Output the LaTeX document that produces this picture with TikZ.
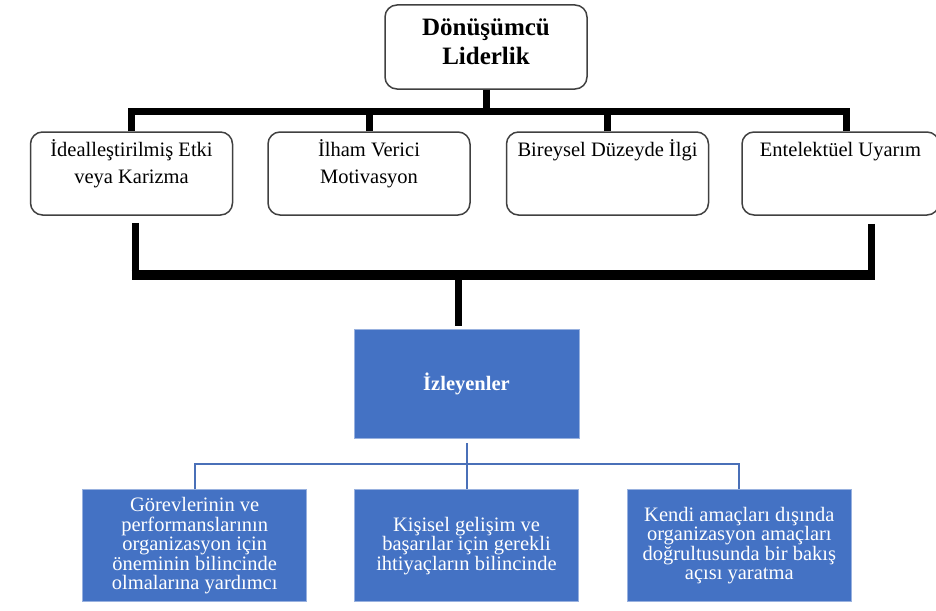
\documentclass[tikz,border=0pt]{standalone}
\usepackage{fontspec}
\setmainfont{Liberation Serif}
\usepackage{tikz}
\usetikzlibrary{positioning}
\definecolor{kutumavi}{HTML}{4472C4}
\definecolor{cizgimavi}{HTML}{4A70B8}

\begin{document}
\begin{tikzpicture}[
		node distance=34pt and 34pt,
		kutu/.style={draw=black!75, line width=1.5pt, rectangle, rounded corners=12pt, minimum width=202pt, minimum height=83pt},
		metin/.style={anchor=north, align=center, inner sep=8pt, font=\fontsize{20.5}{27}\selectfont},
		mavikutu/.style={fill=kutumavi, draw=kutumavi!55!white, line width=0.8pt, minimum width=224pt, minimum height=112pt, align=center, text=white, font=\fontsize{20.5}{19.5}\selectfont},
		kalin/.style={line width=7pt},
		kalinbar/.style={line width=10pt},
		ince/.style={draw=cizgimavi, line width=2pt}
		]
		\useasboundingbox (0,0) rectangle (936pt,-610pt);

		% Nodes
		\node[kutu, minimum height=84pt, align=center, text depth=11pt, font=\fontsize{25}{29}\selectfont\bfseries] (lider) at (486pt,-47pt) {Dönüşümcü\\ Liderlik};
		\node[kutu] (etki) at (131.5pt,-173.5pt) {};
		\node[kutu, right=34pt of etki] (ilham) {};
		\node[kutu, right=35pt of ilham] (bireysel) {};
		\node[kutu, right=32pt of bireysel, minimum width=197pt] (uyarim) {};
		\node[metin] (etkim) at (etki.north) {İdealleştirilmiş Etki\\ veya Karizma};
		\node[metin] (ilhamm) at (ilham.north) {İlham Verici\\ Motivasyon};
		\node[metin] (bireyselm) at (bireysel.north) {Bireysel Düzeyde İlgi};
		\node[metin, text height=17pt] (uyarimm) at (uyarim.north) {Entelektüel Uyarım};

		\node[mavikutu, minimum width=225pt, minimum height=109pt, font=\fontsize{20.5}{24}\selectfont\bfseries] (izleyen) at (466.5pt,-383.5pt) {İzleyenler};
		\node[mavikutu, below=51pt of izleyen] (gelisim) {Kişisel gelişim ve\\ başarılar için gerekli\\ ihtiyaçların bilincinde};
		\node[mavikutu, left=47pt of gelisim] (gorev) {Görevlerinin ve\\ performanslarının\\ organizasyon için\\ öneminin bilincinde\\ olmalarına yardımcı};
		\node[mavikutu, right=48pt of gelisim] (bakis) {Kendi amaçları dışında\\ organizasyon amaçları\\ doğrultusunda bir bakış\\ açısı yaratma};

		% Connectors
		\coordinate (ustbar) at ([yshift=-22pt]lider.south);
		\draw[kalin] (lider.south) -- (ustbar);
		\draw[kalin] (etki.north) |- (ustbar) -| ([xshift=6pt]uyarim.north);
		\draw[kalin] (ilham.north) -- (ilham.north |- ustbar);
		\draw[kalin] (bireysel.north) -- (bireysel.north |- ustbar);

		\coordinate (altbar) at ([xshift=-8.5pt, yshift=54pt]izleyen.north);
		\draw[kalin] ([xshift=3.5pt, yshift=-7pt]etki.south) -- ([xshift=3.5pt]etki.south |- altbar);
		\draw[kalin] ([xshift=30.5pt, yshift=-8pt]uyarim.south) -- ([xshift=30.5pt]uyarim.south |- altbar);
		\draw[kalinbar] (etki.south |- altbar) -- ([xshift=34pt]uyarim.south |- altbar);
		\draw[kalin] (altbar) -- ([xshift=-8.5pt, yshift=3pt]izleyen.north);

		\coordinate (dal) at ([yshift=-26pt]izleyen.south);
		\draw[ince] ([yshift=-5pt]izleyen.south) -- (dal);
		\draw[ince] (gorev.north) |- (dal) -| (bakis.north);
		\draw[ince] (dal) -- (gelisim.north);
	\end{tikzpicture}
\end{document}
